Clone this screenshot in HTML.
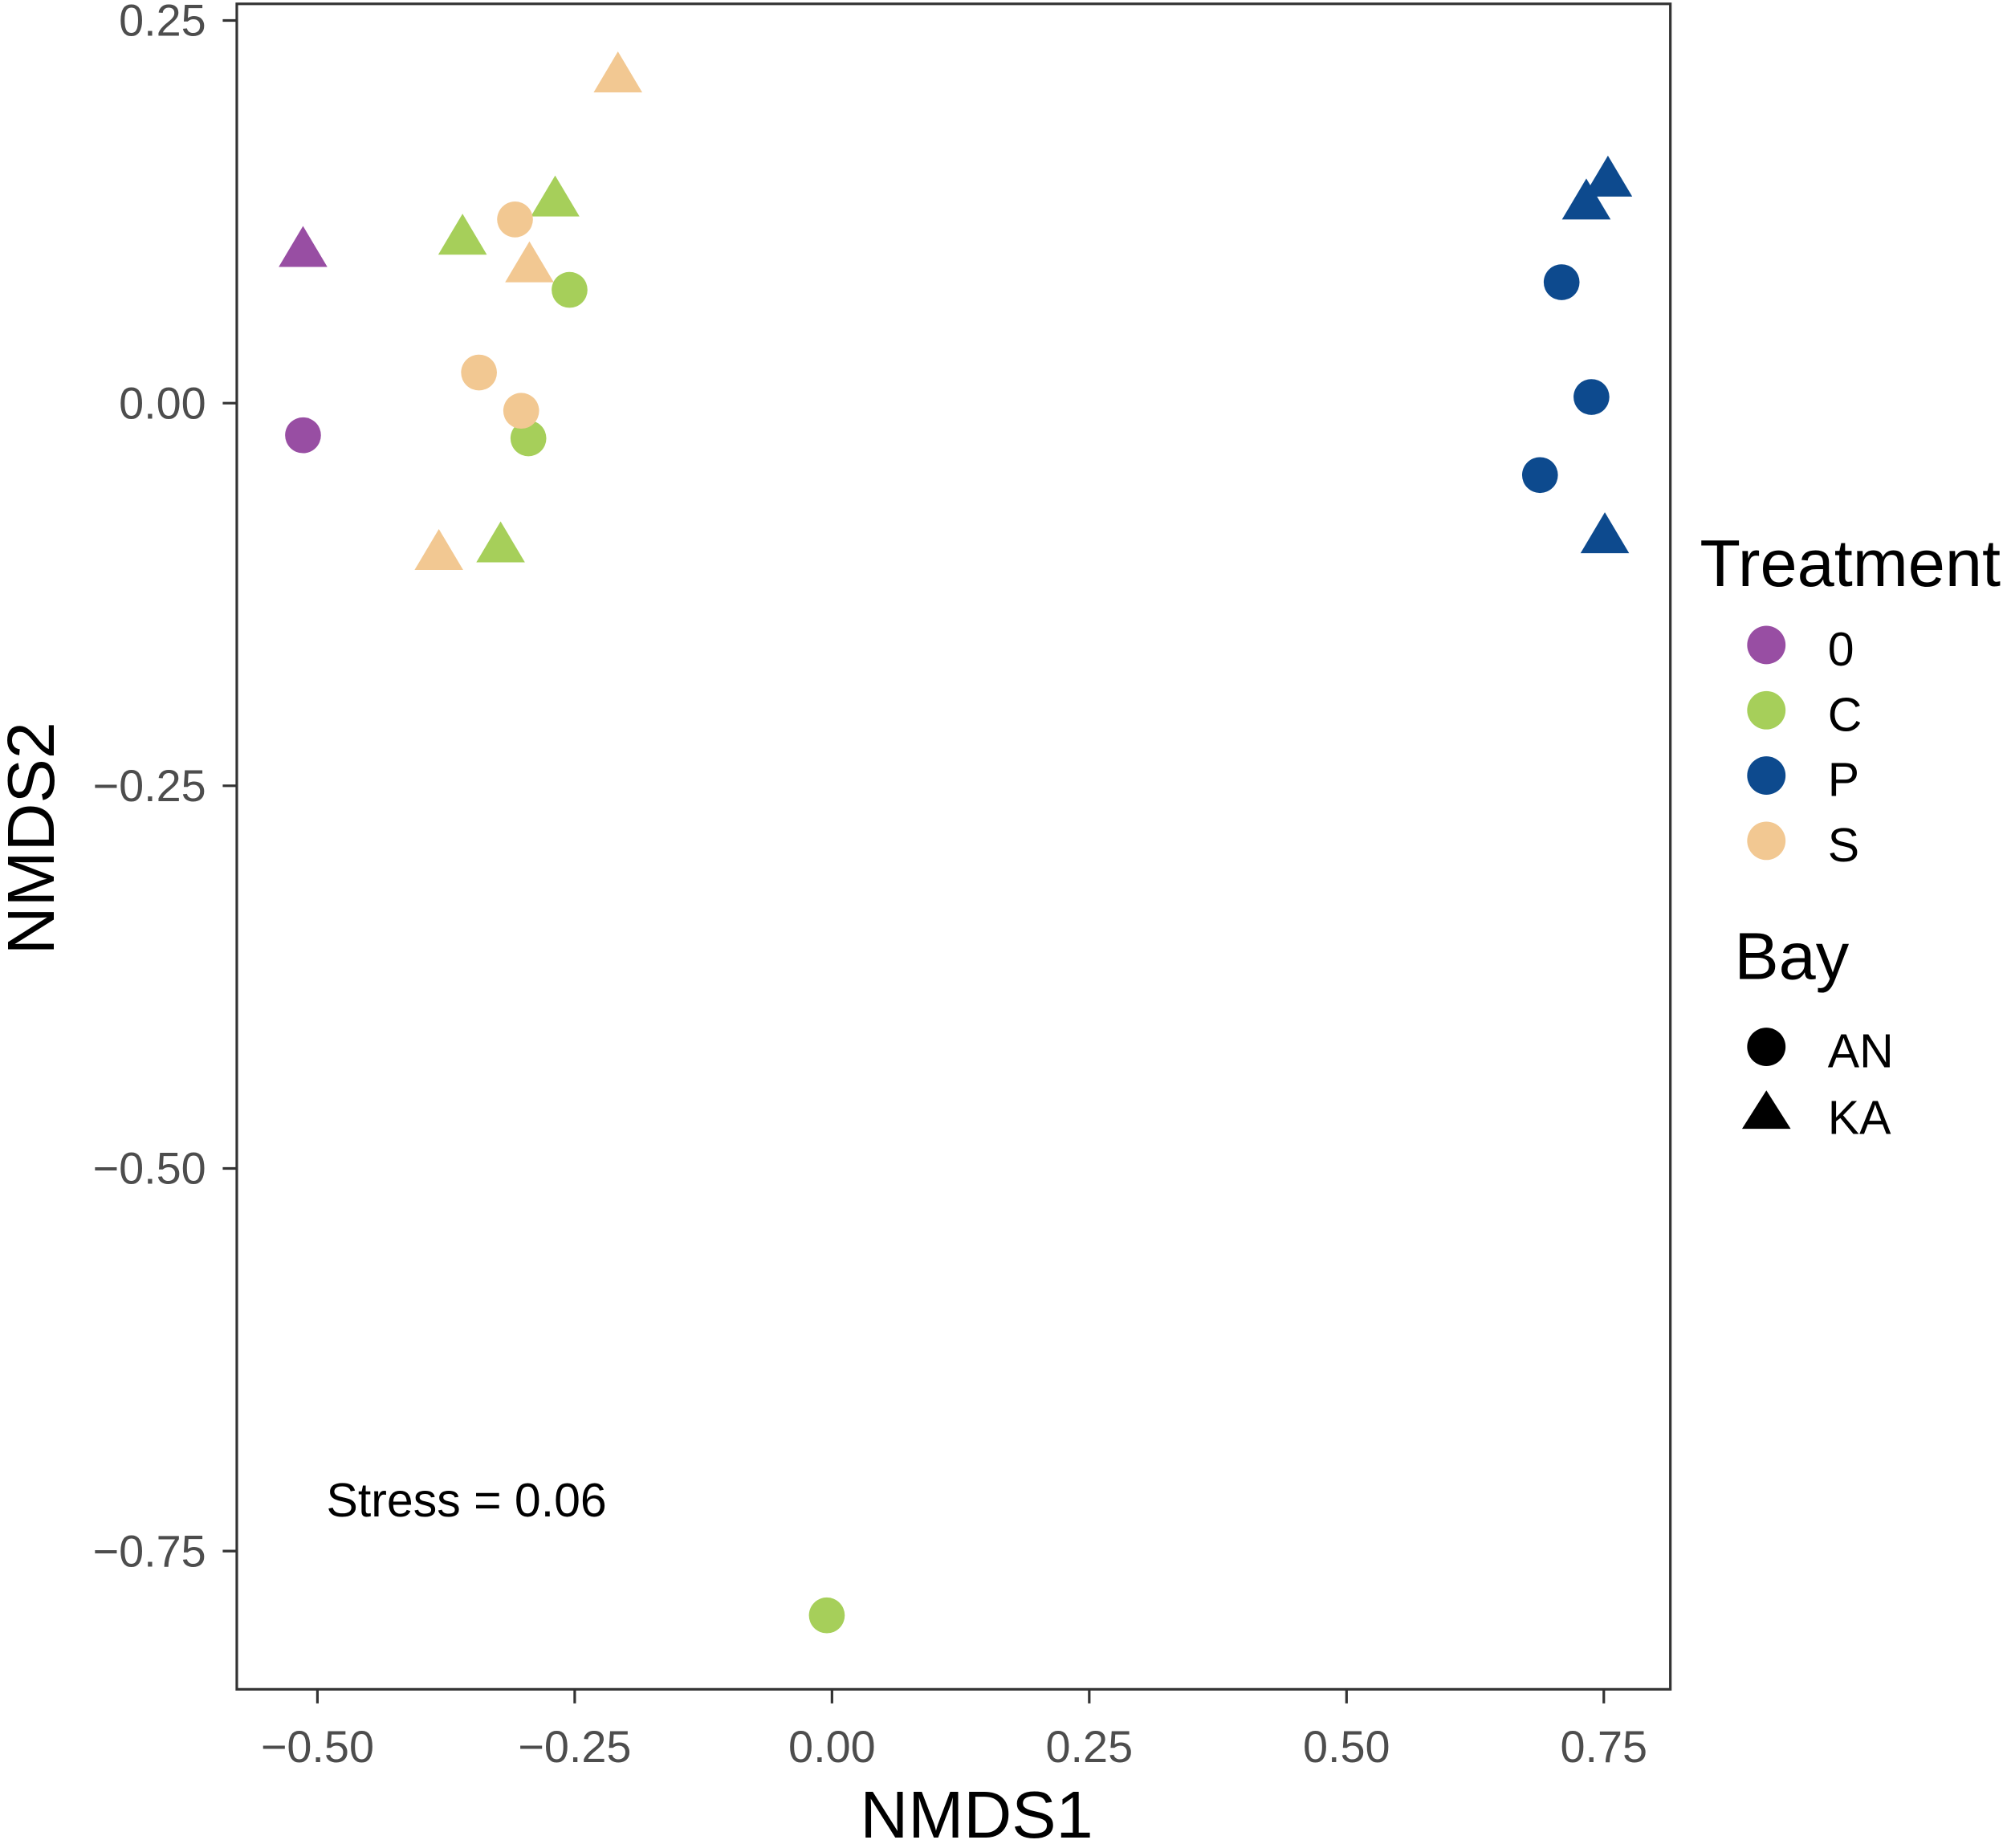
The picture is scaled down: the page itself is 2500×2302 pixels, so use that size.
<!DOCTYPE html>
<html><head><meta charset="utf-8"><style>
html,body{margin:0;padding:0;background:#fff}
svg{display:block}
text{font-family:"Liberation Sans",sans-serif}
</style></head><body>
<svg id="chart" width="2500" height="2302" viewBox="0 0 1568 1444" preserveAspectRatio="none" xmlns="http://www.w3.org/2000/svg">
<rect width="1568" height="1444" fill="#fff"/>
<g id="marks"></g>
<rect x="185" y="3" width="1120" height="1317" fill="none" stroke="#333" stroke-width="2"/>
<g id="axes"></g>
<text x="763" y="1436" font-size="52" text-anchor="middle" fill="#000">NMDS1</text>
<text transform="translate(42,655) rotate(-90)" font-size="52" text-anchor="middle" fill="#000">NMDS2</text>
<text x="255" y="1185" font-size="37" fill="#000">Stress = 0.06</text>
<g>
<text x="1328" y="458" font-size="52">Treatment</text>
<circle cx="1380" cy="504" r="15" fill="#984ea3"/>
<text x="1428" y="520" font-size="37">0</text>
<circle cx="1380" cy="555" r="15" fill="#a6cf5a"/>
<text x="1428" y="571" font-size="37">C</text>
<circle cx="1380" cy="606" r="15" fill="#0d4a8e"/>
<text x="1428" y="622" font-size="37">P</text>
<circle cx="1380" cy="657" r="15" fill="#f2c892"/>
<text x="1428" y="673" font-size="37">S</text>
<text x="1355" y="765" font-size="52">Bay</text>
<circle cx="1380" cy="818" r="15" fill="#000"/>
<text x="1428" y="834" font-size="37">AN</text>
<polygon points="1380,852 1399,882 1361,882" fill="#000"/>
<text x="1428" y="886" font-size="37">KA</text>
</g>
</svg>
<script>
const xTicks=[-0.5,-0.25,0,0.25,0.5,0.75];
const xTickLabels=["\u22120.50","\u22120.25","0.00","0.25","0.50","0.75"];
const yTicks=[0.25,0,-0.25,-0.5,-0.75];
const yTickLabels=["0.25","0.00","\u22120.25","\u22120.50","\u22120.75"];
const treatment=["0","0","C","C","C","C","C","C","S","S","S","S","S","S","P","P","P","P","P","P"];
const bay=["KA","AN","KA","KA","KA","AN","AN","AN","KA","KA","KA","AN","AN","AN","KA","KA","KA","AN","AN","AN"];
const nmds1=[-0.514,-0.514,-0.359,-0.269,-0.322,-0.255,-0.295,-0.005,-0.208,-0.294,-0.382,-0.308,-0.343,-0.302,0.754,0.733,0.751,0.709,0.738,0.688];
const nmds2=[0.099,-0.021,0.107,0.132,-0.094,0.074,-0.023,-0.792,0.213,0.089,-0.099,0.120,0.020,-0.005,0.145,0.130,-0.088,0.079,0.004,-0.047];
const colors={"0":"#984ea3","C":"#a6cf5a","P":"#0d4a8e","S":"#f2c892"};
const NS="http://www.w3.org/2000/svg";
function sx(v){return 650+v*804;}
function sy(v){return 315-v*1196;}
const axes=document.getElementById('axes');
function mk(t,a,p){const e=document.createElementNS(NS,t);for(const k in a)e.setAttribute(k,a[k]);p.appendChild(e);return e;}
xTicks.forEach((v,i)=>{
 const l=mk('line',{x1:sx(v),x2:sx(v),y1:1320,y2:1331,stroke:'#333','stroke-width':2},axes);
 
 
 const t=mk('text',{x:sx(v),y:1377,'font-size':35,'text-anchor':'middle',fill:'#4d4d4d'},axes);
 t.textContent=xTickLabels[i];
 
 
});
yTicks.forEach((v,i)=>{
 const l=mk('line',{x1:174,x2:185,y1:sy(v),y2:sy(v),stroke:'#333','stroke-width':2},axes);
 
 
 const t=mk('text',{x:161,y:sy(v)+12,'font-size':35,'text-anchor':'end',fill:'#4d4d4d'},axes);
 t.textContent=yTickLabels[i];
 
 
});
const marks=document.getElementById('marks');
nmds1.forEach((v,i)=>{
 const x=sx(v),y=sy(nmds2[i]),c=colors[treatment[i]];
 let e;
 if(bay[i]==="AN"){e=mk('circle',{cx:x,cy:y,r:14,fill:c},marks);}
 else{e=mk('polygon',{points:`${x},${y-20} ${x+19},${y+12} ${x-19},${y+12}`,fill:c},marks);}
 
 
});
</script>
</body></html>
